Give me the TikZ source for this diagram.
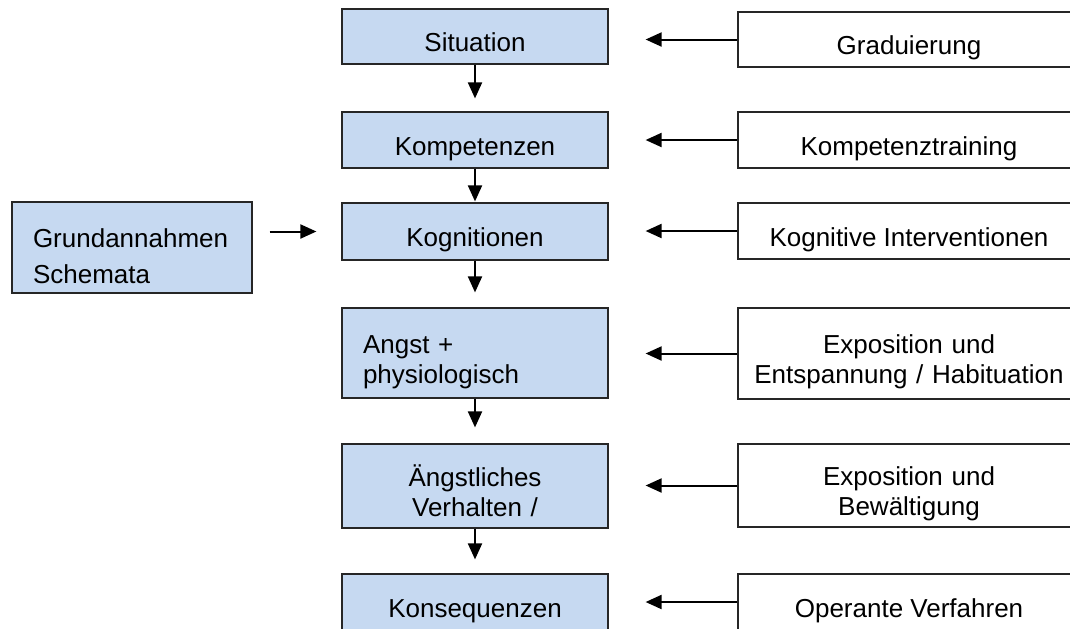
\documentclass[tikz,border=0pt]{standalone}
\usepackage{fontspec}
\setmainfont{Liberation Sans}
\usetikzlibrary{arrows.meta}
\definecolor{boxblue}{RGB}{198,217,241}

\begin{document}
\begin{tikzpicture}[x=0.5pt, y=-0.5pt, >={Triangle[length=8pt,width=7pt]},
    font=\fontsize{13}{15}\selectfont,
    mainbox/.style={draw=black!85, line width=0.6pt, fill=boxblue, inner sep=0pt,
        minimum width=133pt, text height=15pt, text depth=0pt, align=center},
    sidebox/.style={draw=black!85, line width=0.6pt, fill=white, inner sep=0pt,
        minimum width=171pt, text height=15pt, text depth=0pt, align=center},
    twoline/.style={text height=10pt, text depth=10pt},
    arr/.style={->, line width=1pt}]
    \path[use as bounding box] (0,0) rectangle (1070,628);
    \clip (0,0) rectangle (1070,628);

    % Ablauf
    \node[mainbox, minimum height=27.5pt] (sit) at (475,36.5) {Situation};
    \node[mainbox, minimum height=28pt] (komp) at (475,140) {Kompetenzen};
    \node[mainbox, minimum height=28.5pt] (kog) at (475,231.5) {Kognitionen};
    \node[mainbox, twoline, minimum height=45pt, inner xsep=10.5pt, text width=112pt, align=left]
        (angst) at (475,353) {Angst +\\physiologisch};
    \node[mainbox, twoline, minimum height=42pt, inner xsep=10.5pt, text width=112pt]
        (verh) at (475,486) {Ängstliches\\Verhalten /};
    \node[mainbox, minimum height=28pt] (kons) at (475,602) {Konsequenzen};

    % Grundannahmen
    \node[mainbox, twoline, minimum width=120pt, minimum height=45.5pt, inner xsep=10.5pt,
        text width=99pt, align=left] (grund) at (132,247.5) {Grundannahmen\\[3pt]Schemata};

    % Interventionen
    \node[sidebox, minimum height=27.5pt] (grad) at (909,39.5) {Graduierung};
    \node[sidebox, minimum height=28pt] (ktr) at (909,140) {Kompetenztraining};
    \node[sidebox, minimum height=28pt] (kint) at (909,231) {Kognitive Interventionen};
    \node[sidebox, twoline, minimum height=45.5pt, text width=171pt]
        (expo) at (909,353.5) {Exposition und\\Entspannung / Habituation};
    \node[sidebox, twoline, minimum height=41.5pt, text width=171pt]
        (bew) at (909,485.5) {Exposition und\\Bewältigung};
    \node[sidebox, minimum height=28pt] (oper) at (909,602) {Operante Verfahren};

    \draw[arr, shorten >=6.5pt] (sit) -- (komp);
    \draw[arr, shorten >=0.5pt] (komp) -- (kog);
    \draw[arr, shorten >=7.5pt] (kog) -- (angst);
    \draw[arr, shorten >=8pt] (angst) -- (verh);
    \draw[arr, shorten >=7pt] (verh) -- (kons);

    \draw[arr, shorten <=8.5pt, shorten >=12.5pt] (grund.east |- kog.west) -- (kog.west);

    \draw[arr, shorten >=18.5pt] (grad.west) -- (grad.west -| sit.east);
    \draw[arr, shorten >=18.5pt] (ktr.west) -- (ktr.west -| komp.east);
    \draw[arr, shorten >=18.5pt] (kint.west) -- (kint.west -| kog.east);
    \draw[arr, shorten >=18.5pt] (expo.west) -- (expo.west -| angst.east);
    \draw[arr, shorten >=18.5pt] (bew.west) -- (bew.west -| verh.east);
    \draw[arr, shorten >=18.5pt] (oper.west) -- (oper.west -| kons.east);
\end{tikzpicture}
\end{document}
